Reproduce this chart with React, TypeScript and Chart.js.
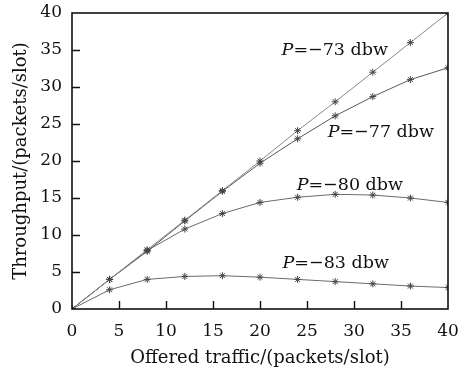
import React, { useEffect, useRef } from "react";
import { Chart, registerables } from "chart.js";
Chart.register(...registerables);

const offered = [0, 4, 8, 12, 16, 20, 24, 28, 32, 36, 40];
const p73 = [0, 4, 8, 12, 16, 20, 24.1, 28, 32, 36, 40];
const p77 = [0, 4, 7.8, 11.9, 15.9, 19.7, 23.0, 26.1, 28.7, 31.0, 32.6];
const p80 = [0, 4, 7.9, 10.8, 12.9, 14.4, 15.1, 15.5, 15.4, 15.0, 14.4];
const p83 = [0, 2.6, 4.0, 4.4, 4.5, 4.3, 4.0, 3.7, 3.4, 3.1, 2.9];
const seriesNames = ["-73", "-77", "-80", "-83"];
const labelPos = [
  { x: 22.3, y: 35.0 },
  { x: 27.2, y: 23.9 },
  { x: 23.9, y: 16.75 },
  { x: 22.4, y: 6.2 },
];
const xTitle = "Offered traffic/(packets/slot)";
const yTitle = "Throughput/(packets/slot)";
const FONT = "'DejaVu Serif', 'Liberation Serif', serif";

export default function App() {
  const ref = useRef<HTMLCanvasElement>(null);
  useEffect(() => {
    document.body.style.margin = "0";
    const ctx = ref.current!;
    const all = [p73, p77, p80, p83];
    const lineColors = ["#8a8a8a", "#5a5a5a", "#6a6a6a", "#6a6a6a"];
    const boxAndLabels = {
      id: "boxAndLabels",
      afterDraw(chart: any) {
        const c = chart.ctx;
        const xs = chart.scales.x;
        const ys = chart.scales.y;
        const a = chart.chartArea;
        c.save();
        c.strokeStyle = "#111";
        c.lineWidth = 1.6;
        c.strokeRect(a.left, a.top, a.right - a.left, a.bottom - a.top);
        c.lineWidth = 1.4;
        c.beginPath();
        xs.ticks.forEach((t: any) => {
          if (t.value <= xs.min || t.value >= xs.max) return;
          const px = Math.round(xs.getPixelForValue(t.value)) + 0.5;
          c.moveTo(px, a.bottom);
          c.lineTo(px, a.bottom - 8);
        });
        ys.ticks.forEach((t: any) => {
          if (t.value <= ys.min || t.value >= ys.max) return;
          const py = Math.round(ys.getPixelForValue(t.value)) + 0.5;
          c.moveTo(a.left, py);
          c.lineTo(a.left + 8, py);
        });
        c.stroke();
        c.fillStyle = "#111";
        c.textBaseline = "middle";
        c.textAlign = "left";
        seriesNames.forEach((n, i) => {
          const px = xs.getPixelForValue(labelPos[i].x);
          const py = ys.getPixelForValue(labelPos[i].y);
          c.font = `italic 17.5px ${FONT}`;
          c.fillText("P", px, py);
          const w = c.measureText("P").width;
          c.font = `17.5px ${FONT}`;
          c.fillText("=" + n.replace("-", "\u2212") + " dbw", px + w, py);
        });
        c.restore();
      },
    };
    const chart = new Chart(ctx, {
      type: "line",
      data: {
        datasets: all.map((d, i) => ({
          label: "P=" + seriesNames[i] + " dbw",
          data: offered.map((x, j) => ({ x, y: d[j] })),
          borderColor: lineColors[i],
          borderWidth: 1,
          pointStyle: "star",
          pointRadius: 3.5,
          pointBorderColor: "#444",
          pointBorderWidth: 1,
          pointBackgroundColor: "#444",
          tension: 0,
        })),
      },
      options: {
        animation: false,
        responsive: false,
        layout: { padding: { left: 0, right: 21, top: 13, bottom: 0 } },
        plugins: { legend: { display: false }, tooltip: { enabled: false } },
        scales: {
          x: {
            type: "linear",
            min: 0,
            max: 40,
            ticks: { stepSize: 5, color: "#111", font: { family: FONT, size: 17 }, padding: 12, maxRotation: 0 },
            grid: { display: false, drawTicks: false },
            border: { display: false },
            title: { display: true, text: xTitle, color: "#111", font: { family: FONT, size: 18 }, padding: { top: 1, bottom: 0 } },
            afterFit: (s: any) => { s.height = 60; s.paddingLeft = 0; s.paddingRight = 0; },
          },
          y: {
            type: "linear",
            min: 0,
            max: 40,
            ticks: { stepSize: 5, color: "#111", font: { family: FONT, size: 17 }, padding: 10 },
            grid: { display: false, drawTicks: false },
            border: { display: false },
            title: { display: true, text: yTitle, color: "#111", font: { family: FONT, size: 18 }, padding: { top: 11, bottom: 0 } },
            afterFit: (s: any) => { s.width = 72; s.paddingTop = 0; s.paddingBottom = 0; },
          },
        },
      },
      plugins: [boxAndLabels],
    });
    return () => chart.destroy();
  }, []);
  return (
    <div style={{ width: 469, height: 369, background: "#fff" }}>
      <canvas ref={ref} width={469} height={369} style={{ display: "block" }} />
    </div>
  );
}
